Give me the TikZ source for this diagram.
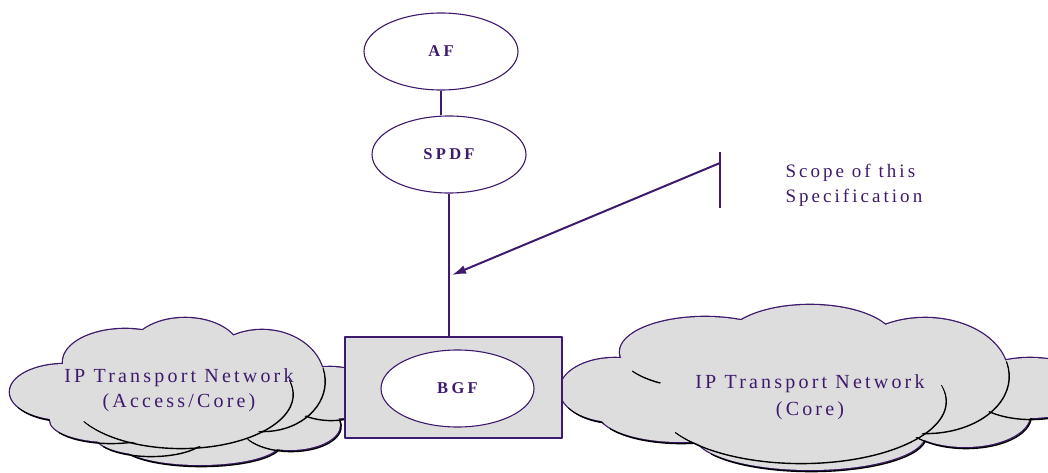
\documentclass[tikz,border=0pt]{standalone}
\usepackage{fontspec}
\setmainfont{Liberation Serif}
\newfontfamily\spfont[LetterSpace=16]{Liberation Serif}
\newfontfamily\scfont[LetterSpace=16]{Liberation Serif}
\newfontfamily\bfsp[LetterSpace=20]{Liberation Serif}
\usetikzlibrary{shapes.geometric,arrows.meta}
\definecolor{purp}{RGB}{62,26,108}
\definecolor{cloudgray}{RGB}{221,221,221}
% puffs of each cloud, from back to front: centre x / centre y / x radius / y radius
\def\leftpuffs{200/443/80/22, 150/435/55/20, 290/425/50/25, 330/393/45/26, 65/392/55/28, 110/420/60/22, 125/362/62/33, 185/352/55/34, 262/380/62/50, 180/393/112/54}
\def\rightpuffs{810/435/115/35, 965/415/65/32, 1030/388/62/30, 615/390/55/32, 680/412/82/30, 705/352/85/35, 810/342/85/37, 925/375/83/57, 800/400/145/62}
\newcommand\drawcloud[1]{%
  \foreach \cx/\cy/\rx/\ry in #1
    \draw[purp, line width=2.6pt] (\cx,\cy) ellipse [x radius=\rx, y radius=\ry];
  \foreach \cx/\cy/\rx/\ry in #1 {
    \draw[black, line width=1.4pt, line cap=round]
      ({\cx+1.2+\rx*cos(-15)},{\cy+1.6+\ry*sin(-15)})
      arc [start angle=-15, end angle=150, x radius=\rx, y radius=\ry];
    \fill[cloudgray] (\cx,\cy) ellipse [x radius=\rx, y radius=\ry];
  }}
\tikzset{
  fn/.style={ellipse, draw=purp, line width=1.1pt, fill=white, minimum width=154pt,
    minimum height=77pt, inner sep=0pt, text=purp,
    font=\bfsp\bfseries\fontsize{16.5}{19}\selectfont},
  link/.style={draw=purp, line width=1.1pt},
  cloudtext/.style={text=purp, align=center, font=\spfont\fontsize{20}{25}\selectfont},
  gwbox/.style={draw=purp, fill=cloudgray, line width=1.1pt, minimum width=217pt,
    minimum height=101pt, inner sep=0pt},
}
\begin{document}
\begin{tikzpicture}[x=1pt, y=-1pt, line join=round]
\useasboundingbox (0,0) rectangle (1048,473);
% clouds
\drawcloud{\leftpuffs}
\drawcloud{\rightpuffs}
% nodes
\node[fn] (AF) at (441,51.5) {AF};
\node[fn] (SPDF) at (449,154.5) {SPDF};
\node[gwbox] (box) at (453.5,387.5) {};
\node[fn, minimum width=153pt] (BGF) at (457.5,388.5) {BGF};
% connectors
\draw[link] (AF.south) -- (AF.south |- SPDF.north);
\draw[link] (SPDF.south) -- (SPDF.south |- box.north);
\coordinate (ticktop) at (720,152);
\coordinate (tickbot) at (720,208);
\coordinate (tickmid) at (720,163);
\coordinate (arrowend) at (452,275);
\draw[link] (ticktop) -- (tickbot);
\draw[purp, line width=2pt, -{Latex[length=14pt,width=9pt]}] (tickmid) -- (arrowend);
% texts
\node[cloudtext, anchor=base] (lefttext) at (179,407) {IP Transport Network\\(Access/Core)};
\node[cloudtext, anchor=base, font=\spfont\fontsize{20}{27}\selectfont] (righttext) at (810,415) {IP Transport Network\\(Core)};
\node[text=purp, align=left, anchor=base west, font=\scfont\fontsize{19}{25}\selectfont] (scope) at (782,202) {Scope of this\\Specification};
\end{tikzpicture}
\end{document}
